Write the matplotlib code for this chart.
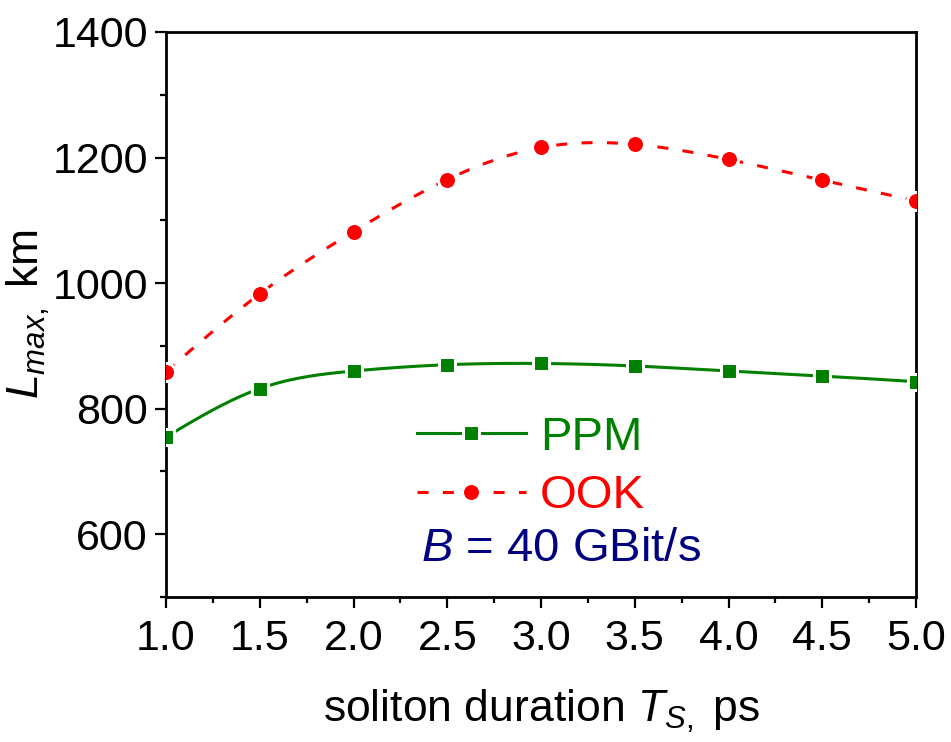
"""L_max versus soliton duration for PPM and OOK at 40 GBit/s."""

import matplotlib

matplotlib.use("Agg")
import matplotlib.pyplot as plt
import numpy as np
from matplotlib.ticker import MultipleLocator

# data
t_soliton = [1.0, 1.5, 2.0, 2.5, 3.0, 3.5, 4.0, 4.5, 5.0]
l_ppm = [755, 832, 860, 870, 872, 868, 860, 852, 843]
l_ook = [859, 983, 1082, 1165, 1216, 1221, 1197, 1164, 1131]
series_labels = ["PPM", "OOK"]
x_ticks = [1.0, 1.5, 2.0, 2.5, 3.0, 3.5, 4.0, 4.5, 5.0]
y_ticks = [600, 800, 1000, 1200, 1400]

plt.rcParams["font.family"] = ["Liberation Sans", "DejaVu Sans"]
plt.rcParams["mathtext.fontset"] = "custom"
plt.rcParams["mathtext.rm"] = "Liberation Sans"
plt.rcParams["mathtext.it"] = "Liberation Sans:italic"


def natural_spline(x, y, n=300):
    """Smooth curve through the points (natural cubic spline)."""
    x = np.asarray(x, float)
    y = np.asarray(y, float)
    k = len(x)
    h = np.diff(x)
    a = np.zeros((k, k))
    b = np.zeros(k)
    a[0, 0] = a[-1, -1] = 1.0
    for i in range(1, k - 1):
        a[i, i - 1] = h[i - 1]
        a[i, i] = 2 * (h[i - 1] + h[i])
        a[i, i + 1] = h[i]
        b[i] = 6 * ((y[i + 1] - y[i]) / h[i] - (y[i] - y[i - 1]) / h[i - 1])
    m = np.linalg.solve(a, b)
    xs = np.linspace(x[0], x[-1], n)
    idx = np.clip(np.searchsorted(x, xs) - 1, 0, k - 2)
    x0, x1 = x[idx], x[idx + 1]
    hh = x1 - x0
    ys = (m[idx] * (x1 - xs) ** 3 / (6 * hh) + m[idx + 1] * (xs - x0) ** 3 / (6 * hh)
          + (y[idx] / hh - m[idx] * hh / 6) * (x1 - xs)
          + (y[idx + 1] / hh - m[idx + 1] * hh / 6) * (xs - x0))
    return xs, ys


fig = plt.figure(figsize=(9.51, 7.42), dpi=100)
ax = fig.add_axes([0.1746, 0.1954, 0.7886, 0.7615])

styles = [
    dict(color="#008000", marker="s", ls="-", ms=11.5, dashes=None),
    dict(color="#ff0000", marker="o", ls="--", ms=13.0, dashes=(3.6, 4.7)),
]
handles = []
for yv, st in zip([l_ppm, l_ook], styles):
    xs, ys = natural_spline(t_soliton, yv)
    line, = ax.plot(xs, ys, color=st["color"], lw=2.2, ls=st["ls"], zorder=2)
    if st["dashes"]:
        line.set_dashes(st["dashes"])
    ax.plot(t_soliton, yv, ls="none", marker=st["marker"], ms=st["ms"],
            mfc=st["color"], mec="white", mew=2.2, zorder=3)
    proxy, = ax.plot([], [], color=st["color"], lw=2.2, ls=st["ls"],
                     marker=st["marker"], ms=st["ms"], mfc=st["color"],
                     mec="white", mew=2.2)
    if st["dashes"]:
        proxy.set_dashes(st["dashes"])
    handles.append(proxy)

ax.set_xlim(1.0, 5.0)
ax.set_ylim(500, 1400)
ax.set_xticks(x_ticks)
ax.set_xticklabels([f"{v:.1f}" for v in x_ticks])
ax.set_yticks(y_ticks)
ax.xaxis.set_minor_locator(MultipleLocator(0.25))
ax.yaxis.set_minor_locator(MultipleLocator(100))
ax.tick_params(which="both", direction="out", width=1.6, labelsize=31,
               top=False, right=False)
ax.tick_params(which="major", length=8)
ax.tick_params(which="minor", length=4.5)
ax.tick_params(axis="y", pad=5)
ax.tick_params(axis="x", pad=8)
for sp in ax.spines.values():
    sp.set_linewidth(2.0)

ax.set_ylabel(r"$L_{max,}$ km", fontsize=32)
ax.yaxis.set_label_coords(-0.152, 0.5)
ax.set_xlabel(r"soliton duration $T_{S,}$ ps", fontsize=32, labelpad=21)

leg = ax.legend(handles, series_labels, loc="upper left",
                bbox_to_anchor=(417 / 951, 1 - 416 / 742),
                bbox_transform=fig.transFigure, frameon=False, fontsize=34,
                borderpad=0, borderaxespad=0, handlelength=2.3,
                handletextpad=0.3, labelspacing=0.3)
for txt, st in zip(leg.get_texts(), styles):
    txt.set_color(st["color"])

fig.text(421 / 951, 1 - 549 / 742, r"$B$ = 40 GBit/s", color="#000080",
         fontsize=34, ha="left", va="center")

fig.savefig("out.png", dpi=100)
